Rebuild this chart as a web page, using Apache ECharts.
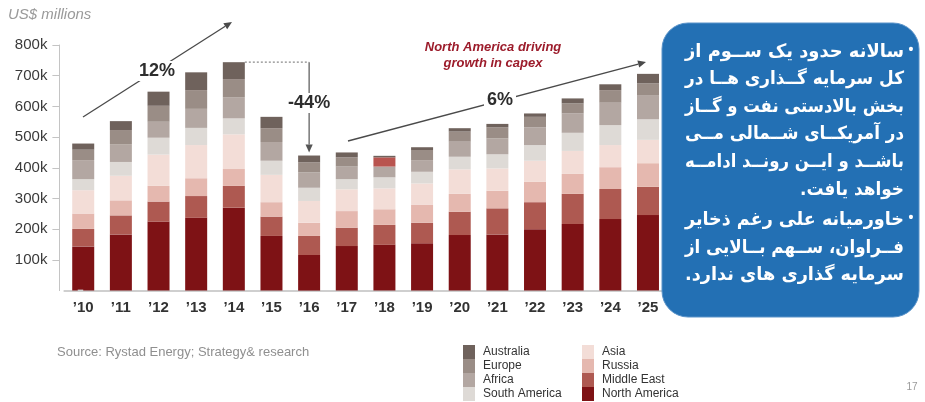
<!DOCTYPE html>
<html>
<head>
<meta charset="utf-8">
<script src="https://cdn.jsdelivr.net/npm/echarts/dist/echarts.min.js"></script>
<style>
  html, body { margin: 0; padding: 0; background: #fff; }
  #chart { width: 925px; height: 402px; }
</style>
</head>
<body>
<div id="chart"></div>
<script>
// Upstream oil & gas capex by region, US$ millions (thousands shown as "k")
const years = ['\u201910', '\u201911', '\u201912', '\u201913', '\u201914', '\u201915', '\u201916', '\u201917',
               '\u201918', '\u201919', '\u201920', '\u201921', '\u201922', '\u201923', '\u201924', '\u201925'];

const northAmerica = [144, 183, 225, 237, 270, 178, 116, 145, 149, 154, 181, 183, 200, 217, 233, 246];
const middleEast   = [ 57,  62,  65,  71,  71,  63,  62,  60,  65,  67,  76,  85,  88,  98,  98,  92];
const russia       = [ 50,  49,  51,  58,  55,  47,  43,  54,  51,  58,  58,  57,  67,  65,  71,  77];
const asia         = [ 76,  80, 102, 108, 113,  89,  71,  71,  68,  70,  80,  73,  68,  75,  72,  76];
const southAmerica = [ 36,  45,  55,  56,  52,  46,  43,  33,  36,  38,  41,  46,  51,  59,  65,  67];
const africa       = [ 62,  58,  52,  62,  69,  61,  50,  41,  35,  38,  49,  52,  58,  63,  73,  79];
const europe       = [ 34,  46,  52,  61,  59,  45,  33,  30,  30,  33,  33,  36,  34,  33,  41,  38];
const australia    = [ 20,  29,  46,  58,  55,  37,  22,  16,   5,   9,  11,  11,  11,  16,  19,  31];

const yTicks = [100, 200, 300, 400, 500, 600, 700, 800];

const regionNames = ['North America', 'Middle East', 'Russia', 'Asia',
                     'South America', 'Africa', 'Europe', 'Australia'];
const regionValues = [northAmerica, middleEast, russia, asia, southAmerica, africa, europe, australia];
const regionColors = ['#7e1215', '#ae5951', '#e5b8af', '#f3ddd7', '#dedad6', '#b3a7a2', '#9a8d86', '#6f625c'];

const legendLeftCol  = ['Australia', 'Europe', 'Africa', 'South America'];
const legendRightCol = ['Asia', 'Russia', 'Middle East', 'North America'];

// Persian notes shown in the blue call-out box
const noteLines = [
  'سالانه حدود یک ســوم از',
  'کل سرمایه گــذاری هــا در',
  'بخش بالادستی نفت و گــاز',
  'در آمریکــای شــمالی مــی',
  'باشــد و ایــن رونــد ادامــه',
  'خواهد یافت.',
  'خاورمیانه علی رغم ذخایر',
  'فــراوان، ســهم بــالایی از',
  'سرمایه گذاری های ندارد.'
];
const noteBullets   = [true, false, false, false, false, false, true, false, false];
const noteJustified = [true, true, true, true, true, false, true, true, true];

const FONT = '"Liberation Sans", Arial, sans-serif';
const chart = echarts.init(document.getElementById('chart'), null, { renderer: 'canvas' });

const series = regionNames.map((name, i) => ({
  name: name,
  type: 'bar',
  stack: 'capex',
  barWidth: 22,
  color: regionColors[i],
  itemStyle: { color: regionColors[i] },
  emphasis: { disabled: true },
  data: regionValues[i].map((v, k) => {
    // the 2018 Europe block is highlighted in red
    if (name === 'Europe' && years[k] === '\u201918') {
      return { value: v, itemStyle: { color: '#b9544f' } };
    }
    return v;
  })
}));

const legendCommon = {
  orient: 'vertical', top: 345, icon: 'rect', itemWidth: 12, itemHeight: 14, itemGap: 0,
  padding: 0, selectedMode: false,
  textStyle: { color: '#333', fontSize: 12, fontFamily: FONT, padding: [0, 0, 0, 3] }
};

chart.setOption({
  animation: false,
  backgroundColor: '#fff',
  grid: { left: 64.4, top: 45, width: 602.4, height: 245.6, containLabel: false },
  xAxis: {
    type: 'category',
    data: years,
    boundaryGap: true,
    axisLine: { show: true, lineStyle: { color: '#cfcfcf', width: 2 } },
    axisTick: { show: false },
    axisLabel: { color: '#333', fontSize: 15, fontWeight: 'bold', fontFamily: FONT, margin: 10 },
    splitLine: { show: false }
  },
  yAxis: {
    type: 'value',
    min: 0,
    max: yTicks[yTicks.length - 1],
    interval: yTicks[0],
    offset: 5,
    axisLine: { show: true, lineStyle: { color: '#c4c4c4', width: 1 } },
    axisTick: { show: true, length: 7, customValues: yTicks, lineStyle: { color: '#c4c4c4' } },
    axisLabel: {
      color: '#3a3a3a', fontSize: 15, fontFamily: FONT, margin: 12,
      formatter: v => (yTicks.indexOf(v) >= 0 ? v + 'k' : '')
    },
    splitLine: { show: false }
  },
  legend: [
    Object.assign({ data: legendLeftCol, left: 463 }, legendCommon),
    Object.assign({ data: legendRightCol, left: 582 }, legendCommon)
  ],
  series: series
});

// ---- annotations -------------------------------------------------------
const totals = years.map((_, k) => regionValues.reduce((s, arr) => s + arr[k], 0));
const px = (k, v) => chart.convertToPixel({ gridIndex: 0 }, [k, v]);

function arrow(x1, y1, x2, y2, color, width) {
  const a = Math.atan2(y2 - y1, x2 - x1);
  const L = 8, W = 3.6;
  const bx = x2 - L * Math.cos(a), by = y2 - L * Math.sin(a);
  const nx = -Math.sin(a), ny = Math.cos(a);
  return [
    { type: 'line', silent: true, z: 50,
      shape: { x1: x1, y1: y1, x2: bx, y2: by },
      style: { stroke: color, lineWidth: width } },
    { type: 'polygon', silent: true, z: 50,
      shape: { points: [[x2, y2], [bx + nx * W, by + ny * W], [bx - nx * W, by - ny * W]] },
      style: { fill: color } }
  ];
}

function label(text, x, y, size) {
  return {
    type: 'text', silent: true, z: 60, x: x, y: y,
    style: {
      text: text, fill: '#2e2e2e', align: 'center', verticalAlign: 'middle',
      font: 'bold ' + size + 'px ' + FONT, backgroundColor: '#fff', padding: [1, 3]
    }
  };
}

const i14 = years.indexOf('\u201914'), i16 = years.indexOf('\u201916');
const p14 = px(i14, totals[i14]);
const p16 = px(i16, totals[i16]);
const origin = px(0, 0);
const cornerX = p16[0];

// measure Persian lines so each justified line fills the box width
const measureCtx = document.createElement('canvas').getContext('2d');
const NOTE_FONT = 'bold 18px "DejaVu Sans", sans-serif';
measureCtx.font = NOTE_FONT;
const noteRight = 904, noteWidth = 219;
const scales = noteLines.map(t => noteWidth / measureCtx.measureText(t).width);
const justScales = scales.filter((s, i) => noteJustified[i]).sort((a, b) => a - b);
const medScale = justScales[Math.floor(justScales.length / 2)];

const noteGraphics = [];
let yLine = 52;
noteLines.forEach((t, i) => {
  if (i > 0) yLine += 27.6 + (noteBullets[i] ? 3 : 0);
  const s = noteJustified[i] ? scales[i] : medScale;
  noteGraphics.push({
    type: 'text', silent: true, z: 110, x: noteRight, y: yLine, scaleX: s,
    style: { text: t + '\u200F', fill: '#fff', align: 'right', verticalAlign: 'middle', font: NOTE_FONT }
  });
  if (noteBullets[i]) {
    noteGraphics.push({
      type: 'text', silent: true, z: 110, x: 911, y: yLine - 2,
      style: { text: '\u2022', fill: '#fff', align: 'center', verticalAlign: 'middle', font: 'bold 14px ' + FONT }
    });
  }
});

chart.setOption({
  graphic: [
    { type: 'text', silent: true, x: 8, y: 15,
      style: { text: 'US$ millions', fill: '#9a9a9a', font: 'italic 15px ' + FONT, verticalAlign: 'middle' } },

    // base line continues to the offset value axis
    { type: 'line', silent: true, z: 5,
      shape: { x1: origin[0] - 5.5, y1: origin[1], x2: origin[0], y2: origin[1] },
      style: { stroke: '#cfcfcf', lineWidth: 2 } },

    // 2010-2014 growth
    ...arrow(83, 117, 232, 22, '#4a4a4a', 1.3),
    label('12%', 157, 71, 18),

    // 2014-2016 drop
    { type: 'polyline', silent: true, z: 50,
      shape: { points: [[p14[0] + 11, p14[1]], [cornerX, p14[1]]] },
      style: { stroke: '#8a8a8a', lineWidth: 1.2, lineDash: [2, 2], fill: null } },
    ...arrow(cornerX, p14[1], cornerX, p16[1] - 3, '#555', 1.2),
    label('-44%', cornerX, 103, 18),

    // 2017-2025 growth
    ...arrow(348, 141, 646, 62, '#4a4a4a', 1.3),
    label('6%', 500, 100, 18),

    { type: 'text', silent: true, z: 60, x: 493, y: 55,
      style: { text: 'North America driving\ngrowth in capex', fill: '#9c1c2b', align: 'center',
               verticalAlign: 'middle', font: 'italic bold 13px ' + FONT, lineHeight: 16 } },

    // call-out box
    { type: 'rect', silent: true, z: 100,
      shape: { x: 662, y: 23, width: 257, height: 294, r: 26 },
      style: { fill: '#2370b4', stroke: '#5a93c9', lineWidth: 1 } },
    ...noteGraphics,

    { type: 'text', silent: true, x: 57, y: 352,
      style: { text: 'Source: Rystad Energy; Strategy& research', fill: '#8f8f8f',
               font: '13px ' + FONT, verticalAlign: 'middle' } },
    { type: 'text', silent: true, x: 912, y: 387,
      style: { text: '17', fill: '#9a9a9a', font: '10px ' + FONT, align: 'center', verticalAlign: 'middle' } }
  ]
});
</script>
</body>
</html>
